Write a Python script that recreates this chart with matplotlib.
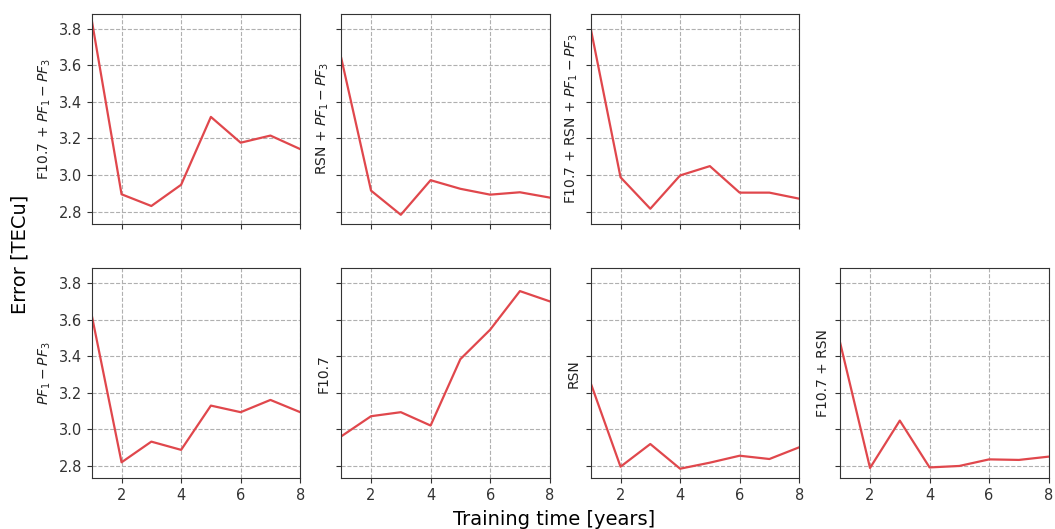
import matplotlib.pyplot as plt

years = [1, 2, 3, 4, 5, 6, 7, 8]

f107_pf = [3.846, 2.895, 2.831, 2.947, 3.318, 3.177, 3.216, 3.142]
rsn_pf = [3.639, 2.915, 2.783, 2.972, 2.925, 2.893, 2.906, 2.877]
f107_rsn_pf = [3.80, 2.988, 2.816, 2.998, 3.049, 2.904, 2.904, 2.871]
pf_only = [3.623, 2.820, 2.933, 2.888, 3.130, 3.094, 3.161, 3.094]
f107_only = [2.962, 3.072, 3.094, 3.021, 3.384, 3.545, 3.756, 3.700]
rsn_only = [3.252, 2.796, 2.920, 2.785, 2.818, 2.856, 2.838, 2.902]
f107_rsn = [3.471, 2.789, 3.048, 2.792, 2.800, 2.836, 2.833, 2.851]

panels = [
    (0, 0, f107_pf, r'F10.7 + $PF_1 - PF_3$'),
    (0, 1, rsn_pf, r'RSN + $PF_1 - PF_3$'),
    (0, 2, f107_rsn_pf, r'F10.7 + RSN + $PF_1 - PF_3$'),
    (1, 0, pf_only, r'$PF_1 - PF_3$'),
    (1, 1, f107_only, 'F10.7'),
    (1, 2, rsn_only, 'RSN'),
    (1, 3, f107_rsn, 'F10.7 + RSN'),
]

fig, axes = plt.subplots(2, 4, figsize=(10.55, 5.29), dpi=100, sharex=True, sharey=True)
fig.subplots_adjust(left=0.087, right=0.994, top=0.974, bottom=0.096, wspace=0.197, hspace=0.21)

for r, c, vals, label in panels:
    ax = axes[r, c]
    ax.plot(years, vals, color='#e0474c', linewidth=1.6)
    ax.set_ylabel(label, fontsize=10, color='#222222')
    ax.grid(True, linestyle='--', color='#b0b0b0', linewidth=0.8)
    ax.tick_params(labelsize=10.5, colors='#333333')
    for s in ax.spines.values():
        s.set_color('#333333')

# empty slot in the top row
axes[0, 3].axis('off')

ax0 = axes[0, 0]
ax0.set_xlim(1, 8)
ax0.set_xticks([2, 4, 6, 8])
ax0.set_ylim(2.733, 3.882)
ax0.set_yticks([2.8, 3.0, 3.2, 3.4, 3.6, 3.8])

fig.text(0.019, 0.52, 'Error [TECu]', rotation=90, va='center', ha='center', fontsize=14)
fig.text(0.525, 0.018, 'Training time [years]', va='center', ha='center', fontsize=14)

plt.savefig('out.png')
